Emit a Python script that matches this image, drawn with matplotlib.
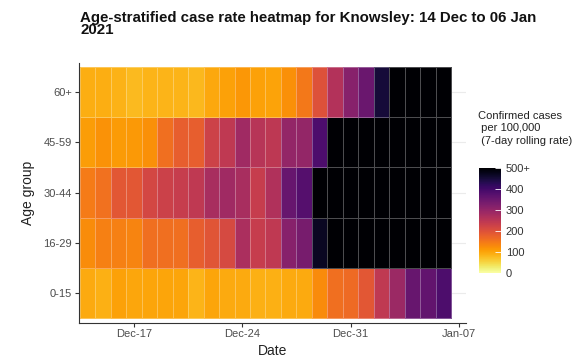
import matplotlib
matplotlib.use("Agg")
import matplotlib.pyplot as plt
import matplotlib.dates as mdates
from matplotlib.colors import Normalize
import numpy as np
import pandas as pd

plt.rcParams['font.family'] = ['Liberation Sans', 'DejaVu Sans']

dates = pd.date_range("2020-12-14", "2021-01-06", freq="D")
age_groups = ["0-15", "16-29", "30-44", "45-59", "60+"]

rate_0_15 = [95, 88, 105, 98, 100, 100, 100, 85, 100, 95, 95, 88, 88, 95, 95, 128,
             160, 165, 190, 245, 290, 355, 360, 385]
rate_16_29 = [125, 140, 140, 135, 160, 160, 160, 180, 195, 212, 270, 235, 245, 315,
              335, 470, 560, 610, 650, 700, 720, 740, 760, 770]
rate_30_44 = [145, 158, 190, 190, 215, 228, 235, 245, 275, 285, 275, 235, 265, 355,
              375, 520, 580, 630, 680, 720, 740, 760, 780, 790]
rate_45_59 = [108, 120, 110, 112, 122, 160, 180, 180, 225, 245, 285, 255, 248, 300,
              300, 385, 510, 560, 600, 640, 680, 700, 720, 730]
rate_60_plus = [90, 90, 86, 80, 85, 85, 85, 82, 96, 104, 114, 104, 102, 122, 150,
                200, 260, 315, 350, 450, 520, 560, 600, 620]

colorbar_ticks = [0, 100, 200, 300, 400, 500]
colorbar_labels = ["0", "100", "200", "300", "400", "500+"]

Z = np.array([rate_0_15, rate_16_29, rate_30_44, rate_45_59, rate_60_plus])

W, H = 585, 362
L, R, T, B = 79, 466, 62.5, 322.5
fig = plt.figure(figsize=(W / 100, H / 100), dpi=100)
ax = fig.add_axes([L / W, 1 - B / H, (R - L) / W, (B - T) / H])

xc = mdates.date2num(dates)
x_edges = np.concatenate([xc - 0.5, [xc[-1] + 0.5]])
y_edges = np.arange(len(age_groups) + 1) + 0.5

norm = Normalize(vmin=0, vmax=500)
mesh = ax.pcolormesh(x_edges, y_edges, Z, cmap="inferno_r", norm=norm,
                     edgecolor=(1, 1, 1, 0.3), linewidth=0.6, zorder=2)

ax.set_xlim(xc[0] - 0.56, xc[-1] + 1.47)
ax.set_ylim(0.41, 5.59)

ax.set_yticks(range(1, len(age_groups) + 1))
ax.set_yticklabels(age_groups)
xt = pd.to_datetime(["2020-12-17", "2020-12-24", "2020-12-31", "2021-01-07"])
ax.set_xticks(mdates.date2num(xt))
ax.set_xticklabels(["Dec-17", "Dec-24", "Dec-31", "Jan-07"])

ax.grid(axis="y", color="#EBEBEB", linewidth=0.8, zorder=0)
ax.set_axisbelow(True)
for s in ["top", "right"]:
    ax.spines[s].set_visible(False)
for s in ["left", "bottom"]:
    ax.spines[s].set_color("#333333")
    ax.spines[s].set_linewidth(0.8)
ax.tick_params(axis="both", labelsize=8, colors="#333333", length=3, width=0.8,
               labelcolor="#4D4D4D", pad=2)
ax.set_xlabel("Date", fontsize=10, color="#222222", labelpad=3)
ax.set_ylabel("Age group", fontsize=10, color="#222222", labelpad=6)

fig.text(80 / W, 1 - 11 / H,
         "Age-stratified case rate heatmap for Knowsley: 14 Dec to 06 Jan\n2021",
         fontsize=10.8, fontweight="bold", va="top", ha="left", linespacing=0.85,
         color="#111111")

cax = fig.add_axes([479 / W, 1 - 273 / H, 22 / W, 105 / H])
cb = fig.colorbar(mesh, cax=cax, ticks=colorbar_ticks)
cb.ax.set_yticklabels(colorbar_labels)
cb.outline.set_visible(False)
cb.ax.tick_params(direction="in", length=4, color="white", labelsize=8,
                  labelcolor="#333333", width=0.6)
fig.text(478 / W, 1 - 111 / H,
         "Confirmed cases\n per 100,000\n (7-day rolling rate)",
         fontsize=8, va="top", ha="left", color="#222222", linespacing=1.3)

fig.savefig("out.png", dpi=100)
